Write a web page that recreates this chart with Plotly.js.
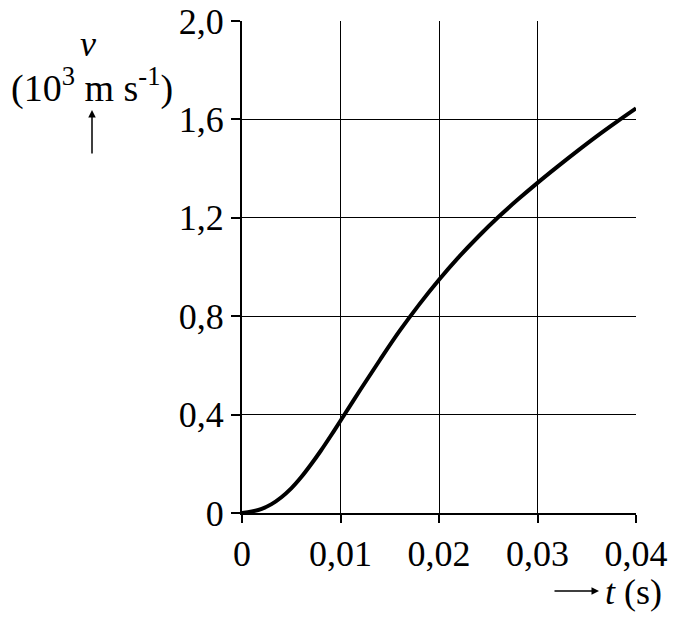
<!DOCTYPE html>
<html>
<head>
<meta charset="utf-8">
<script src="https://cdn.plot.ly/plotly-3.0.1.min.js"></script>
<style>html,body{margin:0;padding:0;background:#fff;}</style>
</head>
<body>
<div id="chart" style="width:678px;height:618px;"></div>
<script>
const tValues = [0, 0.001, 0.002, 0.003, 0.004, 0.005, 0.006, 0.007, 0.008, 0.009, 0.010, 0.012, 0.014, 0.016, 0.018, 0.020, 0.022, 0.024, 0.026, 0.028, 0.030, 0.032, 0.034, 0.036, 0.038, 0.040];
const vValues = [0, 0.006, 0.017, 0.036, 0.064, 0.10, 0.145, 0.197, 0.253, 0.313, 0.375, 0.50, 0.622, 0.74, 0.848, 0.948, 1.04, 1.124, 1.202, 1.274, 1.342, 1.407, 1.47, 1.531, 1.589, 1.645];
const xTickVals = [0, 0.01, 0.02, 0.03, 0.04];
const xTickText = ['0', '0,01', '0,02', '0,03', '0,04'];
const yTickVals = [0, 0.4, 0.8, 1.2, 1.6, 2.0];
const yTickText = ['0', '0,4', '0,8', '1,2', '1,6', '2,0'];

const FONT = '"Liberation Serif"';

const trace = {
  x: tValues, y: vValues, type: 'scatter', mode: 'lines',
  line: {color: '#000', width: 4, shape: 'spline', smoothing: 1},
  hoverinfo: 'skip', cliponaxis: false
};

const layout = {
  width: 678, height: 618,
  margin: {l: 242, r: 42, t: 21, b: 105},
  paper_bgcolor: '#fff', plot_bgcolor: '#fff',
  showlegend: false,
  font: {family: FONT, color: '#000', size: 36},
  xaxis: {
    range: [0, 0.04], tickvals: xTickVals, ticktext: xTickText,
    showgrid: true, gridcolor: '#000', gridwidth: 1,
    showline: true, linecolor: '#000', linewidth: 2,
    ticks: 'outside', ticklen: 8, tickwidth: 2, tickcolor: '#000',
    zeroline: false, fixedrange: true,
    tickfont: {family: FONT, size: 36, color: '#000'}
  },
  yaxis: {
    range: [0, 2.0], tickvals: yTickVals, ticktext: yTickText,
    showgrid: true, gridcolor: '#000', gridwidth: 1,
    showline: true, linecolor: '#000', linewidth: 2,
    ticks: 'outside', ticklen: 9, tickwidth: 2, tickcolor: '#000',
    zeroline: false, fixedrange: true,
    tickfont: {family: FONT, size: 36, color: '#000'}
  },
  annotations: [
    {xref: 'paper', yref: 'paper', x: (88 - 242) / 394, y: (513 - 44) / 492,
     text: '<i>v</i>', showarrow: false, xanchor: 'center', yanchor: 'middle', borderpad: 0,
     font: {family: FONT, size: 36, color: '#000'}},
    {xref: 'paper', yref: 'paper', x: (92 - 242) / 394, y: (513 - 86) / 492,
     text: '(10<sup>3</sup> m s<sup>-1</sup>)', showarrow: false, xanchor: 'center', yanchor: 'middle', borderpad: 0,
     font: {family: FONT, size: 38, color: '#000'}},
    {xref: 'paper', yref: 'paper', x: (92 - 242) / 394, y: (513 - 110) / 492,
     ax: 0, ay: 45, text: '', showarrow: true, arrowhead: 2, arrowsize: 1, arrowwidth: 1.5, arrowcolor: '#000'},
    {xref: 'paper', yref: 'paper', x: (599 - 242) / 394, y: (513 - 591) / 492,
     ax: -46, ay: 0, text: '', showarrow: true, arrowhead: 2, arrowsize: 1, arrowwidth: 1.5, arrowcolor: '#000'},
    {xref: 'paper', yref: 'paper', x: (604 - 242) / 394, y: (513 - 592) / 492,
     text: '<i>t</i> (s)', showarrow: false, xanchor: 'left', yanchor: 'middle', borderpad: 0,
     font: {family: FONT, size: 36, color: '#000'}}
  ]
};

Plotly.newPlot('chart', [trace], layout, {displayModeBar: false, staticPlot: true});
</script>
</body>
</html>
